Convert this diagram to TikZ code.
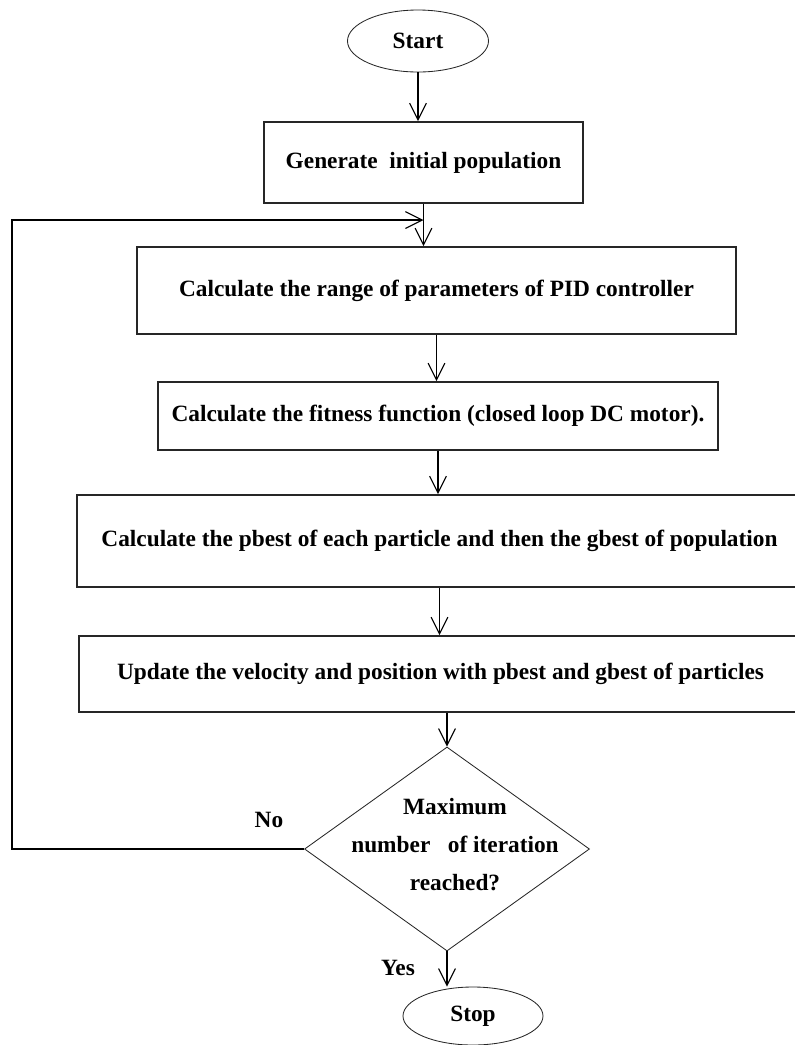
\documentclass[tikz,border=0pt]{standalone}
\usepackage{fontspec}
\setmainfont{Liberation Serif}
\usetikzlibrary{shapes.geometric,arrows.meta}

\tikzset{
  block/.style={draw=black!85, line width=1.1pt, inner sep=0pt},
  term/.style={ellipse, draw=black!85, line width=0.6pt, inner sep=0pt},
  flow/.style={->, line width=0.8pt},
}

\begin{document}
\begin{tikzpicture}[x=0.25mm, y=-0.25mm, >={Straight Barb[length=4.2mm,width=4.2mm]},
  every node/.style={font=\bfseries\fontsize{16.6}{19}\selectfont}]
\useasboundingbox (0,0) rectangle (795,1045);

\node (start) at (418,41) [term, minimum width=35.25mm, minimum height=15.5mm]{Start};
\node (gen) at (423.5,162.5) [block, minimum width=79.75mm, minimum height=20.25mm]{Generate\ \ initial population};
\node (range) at (436.5,290.5) [block, minimum width=149.75mm, minimum height=21.75mm]{Calculate the range of parameters of PID controller};
\node (fit) at (438,416) [block, minimum width=140mm, minimum height=17mm]{Calculate the fitness function (closed loop DC motor).};
\node (pbest) at (439.5,541) [block, minimum width=181.25mm, minimum height=23mm]{Calculate the pbest of each particle and then the gbest of population};
\node (update) at (440.5,674) [block, minimum width=180.75mm, minimum height=19mm]{Update the velocity and position with pbest and gbest of particles};
\node (dec) at (447,849) [diamond, draw=black!85, line width=0.6pt, inner sep=0pt, minimum width=71.25mm, minimum height=51mm]{};
\node (dectext) at (455,845) [align=center]{Maximum\\[8pt] number\ \ \ of iteration\\[8pt] reached?};
\node (stop) at (473,1016) [term, minimum width=35mm, minimum height=14.5mm]{Stop};

\node (no) at (269,820) {No};
\node (yes) at (398,968) {Yes};

\coordinate (back) at (12,220);
\coordinate (merge) at (back -| gen.south);

\draw[flow] (start.south) -- (start.south |- gen.north);
\draw[flow] (gen.south) -- (gen.south |- range.north);
\draw[flow] (range.south) -- (range.south |- fit.north);
\draw[flow] (fit.south) -- (fit.south |- pbest.north);
\draw[flow] (pbest.south) -- (pbest.south |- update.north);
\draw[flow] (update.south -| dec.north) -- (dec.north);
\draw[flow] (dec.south) -- (dec.south |- stop.north);
\draw[flow] (dec.west) -| (back) -- (merge);
\end{tikzpicture}
\end{document}
